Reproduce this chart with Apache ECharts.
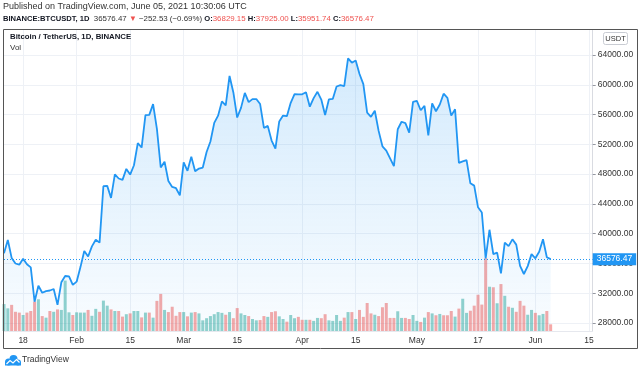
<!DOCTYPE html>
<html><head><meta charset="utf-8">
<script src="https://cdn.jsdelivr.net/npm/echarts@6/dist/echarts.min.js"></script>
<style>html,body{margin:0;padding:0;background:#fff}#c{width:640px;height:372px}</style>
</head><body><div id="c"></div>
<script>
// ---------- data ----------
const startDate = '2021-01-13';
const dayCount = 155; // axis runs through 2021-06-16

const closes = [
  37371, 39144, 36742, 35994, 35828, 36631, 35891, 35469, 30851, 33005, 32067, 32289, 32366, 32569, 30432, 33466, 34316, 34269, 33115,
  33552, 35510, 37673, 36940, 38290, 39187, 38796, 46374, 46420, 44807, 47970, 47409, 47232, 48700, 47937, 49190, 52170, 51572, 55923, 55956, 57408, 54088, 48892, 49677, 47082, 46277, 46106, 45135,
  49588, 48441, 50349, 48375, 48751, 48882, 50972, 52376, 54885, 55851, 57773, 57221, 61188, 58968, 55605, 56900, 58913, 57665, 58075, 58085, 57411, 54204, 54478, 52508, 51416, 55074, 55863, 55778, 57585, 58747, 58718,
  58720, 58993, 57059, 58206, 59054, 58020, 55947, 58048, 58102, 59774, 59965, 59834, 63554, 62969, 63252, 61455, 60087, 56251, 55703, 56507, 53808, 51732, 51153, 50110, 49067, 54031, 55037, 54858, 53568, 57697,
  57828, 56578, 57170, 53205, 57492, 56445, 57349, 58802, 58232, 55860, 56705, 49500, 49716, 49880, 46760, 46456, 43538, 42849, 36690, 40526, 37252, 37450, 34655, 38796, 38324, 39241, 38529, 35664, 34582, 35642, 37254,
  36694, 37568, 39247, 36829.15, 36576.47
];

const volumes = [
  101, 85, 98, 72, 69, 60, 69, 75, 110, 119, 56, 50, 75, 72, 81, 79, 189, 70, 60, 70, 69, 69, 79, 57, 83, 72, 114, 95, 81, 75, 75, 54, 63, 66, 75, 75,
  51, 69, 69, 50, 113, 139, 79, 71, 91, 57, 71, 71, 55, 69, 71, 66, 40, 48, 56, 63, 71, 68, 61, 71, 48, 86, 66, 60, 56, 45, 40, 41, 56, 53, 71, 74,
  55, 45, 35, 60, 48, 53, 42, 42, 42, 38, 49, 48, 63, 40, 38, 60, 38, 50, 71, 71, 45, 79, 53, 105, 66, 61, 56, 89, 105, 49, 49, 74, 49, 49, 45, 60, 38, 34,
  50, 71, 66, 59, 64, 59, 59, 75, 54, 84, 121, 68, 76, 95, 136, 99, 273, 166, 164, 104, 176, 132, 91, 87, 72, 113, 95, 61, 79, 68, 59, 64, 75, 25
];

const volumeUp = [
  1,1,0,0,0,1,0,0,0,1,0,1,0,1,0,1,1,1,0,1,1,1,0,1,1,0,1,1,0,1,0,0,1,0,1,1,
  0,1,0,1,0,0,1,0,0,0,0,1,0,1,0,1,1,1,1,1,1,1,0,1,0,0,1,1,0,1,1,0,0,1,0,0,
  1,1,0,1,1,0,0,1,0,1,1,0,0,1,1,1,1,0,1,0,1,0,0,0,0,1,0,0,0,0,0,1,1,0,0,1,1,0,
  1,0,1,0,1,0,0,0,1,0,1,1,0,0,0,0,0,1,0,1,0,1,0,1,0,0,0,1,1,0,1,1,0,0
];

const xTickDates = ['2021-01-18','2021-02-01','2021-02-15','2021-03-01','2021-03-15','2021-04-01','2021-04-15','2021-05-01','2021-05-17','2021-06-01','2021-06-15'];
const xTickLabels = ['18','Feb','15','Mar','15','Apr','15','May','17','Jun','15'];
const priceTicks = [28000, 32000, 36000, 40000, 44000, 48000, 52000, 56000, 60000, 64000];

const publishedText = 'Published on TradingView.com, June 05, 2021 10:30:06 UTC';
const symbolText = 'BINANCE:BTCUSDT, 1D';
const lastText = '36576.47';
const changeText = '\u2212252.53 (\u22120.69%)';
const ohlc = { O: '36829.15', H: '37925.00', L: '35951.74', C: '36576.47' };
const paneTitle = 'Bitcoin / TetherUS, 1D, BINANCE';
const volTitle = 'Vol';
const currency = 'USDT';
const brand = 'TradingView';

// ---------- build ----------
const dates = [];
{
  const p = startDate.split('-').map(Number);
  for (let i = 0; i < dayCount; i++) {
    const d = new Date(Date.UTC(p[0], p[1] - 1, p[2] + i));
    dates.push(d.toISOString().slice(0, 10));
  }
}
const tickMap = {};
xTickDates.forEach((d, i) => { tickMap[d] = xTickLabels[i]; });
const isTick = (idx, val) => tickMap[val] !== undefined;

const UP = 'rgba(38,166,154,0.5)';
const DOWN = 'rgba(239,83,80,0.5)';
const FONT = 'Liberation Sans';
const TXT = '#333333';

const volData = volumes.map((v, i) => ({ value: v, itemStyle: { color: volumeUp[i] ? UP : DOWN } }));
const lastClose = closes[closes.length - 1];

const gridL = 4, gridR = 47.3;

const option = {
  animation: false,
  textStyle: { fontFamily: FONT },
  grid: [
    { left: gridL, right: gridR, top: 30, bottom: 41 },
    { left: gridL, right: gridR, top: 251, bottom: 41 }
  ],
  xAxis: [
    { type: 'category', gridIndex: 0, data: dates, boundaryGap: false,
      axisLine: { show: false }, axisTick: { show: false }, axisLabel: { show: false },
      splitLine: { show: true, interval: isTick, lineStyle: { color: '#eef1f6', width: 1 } } },
    { type: 'category', gridIndex: 1, data: dates, boundaryGap: false,
      axisLine: { show: true, lineStyle: { color: '#e6e8ee' } }, axisTick: { show: false },
      splitLine: { show: false },
      axisLabel: { show: true, interval: 0, margin: 5, fontSize: 8.5, color: TXT, fontFamily: FONT,
        formatter: (v) => tickMap[v] !== undefined ? tickMap[v] : '' } }
  ],
  yAxis: [
    { type: 'value', gridIndex: 0, position: 'right', min: 26925, max: 67360, scale: true,
      axisLine: { show: true, lineStyle: { color: '#d9dbe1' } },
      axisTick: { show: true, length: 3, customValues: priceTicks, lineStyle: { color: '#9598a1' } },
      axisLabel: { show: true, customValues: priceTicks, margin: 5, fontSize: 8.5, color: TXT, fontFamily: FONT,
        formatter: (v) => v.toFixed(2) },
      splitLine: { show: true, lineStyle: { color: '#eef1f6', width: 1 } } },
    { type: 'value', gridIndex: 1, min: 0, max: 300, show: false, splitLine: { show: false } }
  ],
  series: [
    { type: 'bar', xAxisIndex: 1, yAxisIndex: 1, data: volData, barWidth: 3, z: 1, silent: true },
    { type: 'line', xAxisIndex: 0, yAxisIndex: 0, data: closes, showSymbol: false, z: 3, silent: true,
      lineStyle: { color: '#2196f3', width: 1.8 },
      areaStyle: { origin: 'start', color: { type: 'linear', x: 0, y: 0, x2: 0, y2: 1,
        colorStops: [{ offset: 0, color: 'rgba(33,150,243,0.28)' }, { offset: 1, color: 'rgba(33,150,243,0.04)' }] } },
      markLine: { silent: true, symbol: ['none', 'none'], animation: false,
        lineStyle: { color: '#2196f3', type: [1, 2], width: 1 },
        label: { show: true, position: 'end', distance: 0, formatter: () => lastClose.toFixed(2),
          backgroundColor: '#2196f3', color: '#fff', fontSize: 8.5, fontFamily: FONT, padding: [2, 4, 1, 4] },
        data: [{ yAxis: lastClose }] } }
  ],
  graphic: [
    { type: 'rect', silent: true, z: 10, shape: { x: 3.5, y: 29.5, width: 634, height: 319 },
      style: { fill: 'none', stroke: '#555', lineWidth: 1 } },
    { type: 'text', silent: true, z: 10, x: 3, y: 2,
      style: { text: publishedText, font: '9px "' + FONT + '"', fill: TXT } },
    { type: 'text', silent: true, z: 10, x: 3, y: 14.5,
      style: { text: '{b|' + symbolText + '}  {n|' + lastText + ' }{r|\u25BC}{n| ' + changeText + ' }{b|O:}{r|' + ohlc.O + '}{b| H:}{r|' + ohlc.H + '}{b| L:}{r|' + ohlc.L + '}{b| C:}{r|' + ohlc.C + '}',
        font: '7.8px "' + FONT + '"', fill: TXT,
        rich: { b: { fontWeight: 'bold', fontSize: 7.6, fill: '#131722', fontFamily: FONT },
                n: { fontSize: 7.9, fill: TXT, fontFamily: FONT },
                r: { fontSize: 7.9, fill: '#ef5350', fontFamily: FONT } } } },
    { type: 'text', silent: true, z: 10, x: 10, y: 33,
      style: { text: paneTitle, font: 'bold 7.8px "' + FONT + '"', fill: '#131722' } },
    { type: 'text', silent: true, z: 10, x: 10, y: 44,
      style: { text: volTitle, font: '8px "' + FONT + '"', fill: TXT } },
    { type: 'rect', silent: true, z: 10, shape: { x: 603.5, y: 32.5, width: 24, height: 12, r: 2 },
      style: { fill: '#fff', stroke: '#c9ccd3', lineWidth: 1 } },
    { type: 'text', silent: true, z: 11, x: 615.5, y: 38.5,
      style: { text: currency, font: '7.5px "' + FONT + '"', fill: TXT, align: 'center', verticalAlign: 'middle' } },
    { type: 'group', silent: true, z: 10, children: [
      { type: 'circle', shape: { cx: 8.5, cy: 362, r: 3.5 }, style: { fill: '#2196f3' } },
      { type: 'circle', shape: { cx: 13.5, cy: 359, r: 4 }, style: { fill: '#2196f3' } },
      { type: 'circle', shape: { cx: 18, cy: 362.5, r: 3 }, style: { fill: '#2196f3' } },
      { type: 'rect', shape: { x: 5, y: 362, width: 16, height: 3.5 }, style: { fill: '#2196f3' } },
      { type: 'polyline', shape: { points: [[6.5, 364], [10, 360.5], [13, 363], [16.5, 359.5], [19.5, 362.5]] },
        style: { stroke: '#fff', lineWidth: 1.2, fill: 'none' } }
    ] },
    { type: 'text', silent: true, z: 10, x: 22, y: 355.5,
      style: { text: brand, font: '8.5px "' + FONT + '"', fill: TXT } }
  ]
};
const chart = echarts.init(document.getElementById('c'), null, { renderer: 'canvas' });
chart.setOption(option);
</script></body></html>
